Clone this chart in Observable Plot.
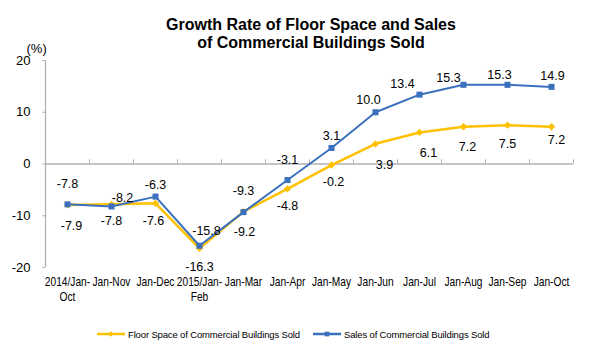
<!DOCTYPE html>
<html>
<head>
<meta charset="utf-8">
<script src="https://cdn.jsdelivr.net/npm/d3@7"></script>
<script src="https://cdn.jsdelivr.net/npm/@observablehq/plot@0.6"></script>
<style>
  html, body { margin: 0; padding: 0; background: #fff; }
  #wrap { position: relative; width: 594px; height: 355px; font-family: Arial, "Liberation Sans", sans-serif; }
  #title { position: absolute; left: 0; top: 16px; width: 622px; text-align: center; font-weight: bold; font-size: 16px; line-height: 18px; color: #000; }
  #chart { position: absolute; left: 0; top: 0; }
  #legend { position: absolute; left: 0; top: 326px; width: 594px; height: 16px; font-family: Arial, "Liberation Sans", sans-serif; font-size: 9.5px; letter-spacing: -0.15px; color: #000; }
  .item { position: absolute; top: 0; display: flex; align-items: center; height: 16px; white-space: nowrap; }
  .item svg { margin-right: 3px; }
</style>
</head>
<body>
<div id="wrap">
  <div id="chart"></div>
  <div id="title">Growth Rate of Floor Space and Sales<br>of Commercial Buildings Sold</div>
  <div id="legend"></div>
</div>
<script>
const categories = ["2014/Jan-\nOct", "Jan-Nov", "Jan-Dec", "2015/Jan-\nFeb", "Jan-Mar", "Jan-Apr", "Jan-May", "Jan-Jun", "Jan-Jul", "Jan-Aug", "Jan-Sep", "Jan-Oct"];
const floorSpace = [-7.9, -7.8, -7.6, -16.3, -9.2, -4.8, -0.2, 3.9, 6.1, 7.2, 7.5, 7.2];
const sales = [-7.8, -8.2, -6.3, -15.8, -9.3, -3.1, 3.1, 10.0, 13.4, 15.3, 15.3, 14.9];
const yTicks = [-20, -10, 0, 10, 20];
const seriesNames = ["Floor Space of Commercial Buildings Sold", "Sales of Commercial Buildings Sold"];

const YELLOW = "#ffc000";
const BLUE = "#3a70bd";

// label nudges (styling, not data)
const salesNudge = [[0,-20],[11,-8],[0,-12],[7,-15],[0,-21],[0,-20],[0,-12],[-7,-12],[-17,-11],[-15,-7],[-8,-10],[1,-11]];
const floorNudge = [[4,21],[0,17],[-2,18],[0,19],[1,20],[0,17],[2,17],[9,21],[9,21],[4,20],[0,19],[5,13]];

const idx = d3.range(categories.length);
const floorData = idx.map(i => ({i, v: floorSpace[i]}));
const salesData = idx.map(i => ({i, v: sales[i]}));
const fmt = v => v.toFixed(1);

const labelMarks = [];
salesData.forEach((d, k) => labelMarks.push(Plot.text([d], {x: "i", y: "v", text: d => fmt(d.v), dx: salesNudge[k][0], dy: salesNudge[k][1], fontSize: 12.5, fill: "#000"})));
floorData.forEach((d, k) => labelMarks.push(Plot.text([d], {x: "i", y: "v", text: d => fmt(d.v), dx: floorNudge[k][0], dy: floorNudge[k][1], fontSize: 12.5, fill: "#000"})));

const chart = Plot.plot({
  width: 594,
  height: 310,
  marginLeft: 45,
  marginRight: 21,
  marginTop: 60,
  marginBottom: 43,
  style: {fontFamily: "Arial, 'Liberation Sans', sans-serif", background: "transparent", overflow: "visible"},
  x: {type: "linear", domain: [-0.5, categories.length - 0.5], axis: null},
  y: {domain: [-20, 20], axis: null},
  marks: [
    Plot.ruleX([-0.5], {stroke: "#b0b0b0", strokeWidth: 1.3}),
    Plot.ruleY(yTicks, {x1: -0.5, x2: -0.56, stroke: "#b0b0b0"}),
    Plot.ruleY([0], {stroke: "#b0b0b0", strokeWidth: 1.3}),
    Plot.ruleX(idx.map(i => i + 0.5), {y1: 0, y2: 0.8, stroke: "#b0b0b0"}),
    Plot.axisY({ticks: yTicks, tickSize: 0, tickPadding: 15, fontSize: 13, tickFormat: d => String(d), anchor: "left", label: null}),
    Plot.axisX({ticks: idx, tickFormat: i => categories[i], tickSize: 0, tickPadding: 8, fontSize: 12, lineHeight: 1.25, label: null, className: "xt", fill: "#000"}),
    Plot.text(["(%)"], {frameAnchor: "top-left", dx: -19, dy: -17, fontSize: 13, fill: "#000"}),
    Plot.line(floorData, {x: "i", y: "v", stroke: YELLOW, strokeWidth: 2.5}),
    Plot.dot(floorData, {x: "i", y: "v", symbol: "diamond2", r: 3.3, fill: YELLOW, stroke: "none"}),
    Plot.line(salesData, {x: "i", y: "v", stroke: BLUE, strokeWidth: 2}),
    Plot.dot(salesData, {x: "i", y: "v", symbol: "square", r: 3.4, fill: BLUE, stroke: "none"}),
    ...labelMarks
  ]
});
document.getElementById("chart").appendChild(chart);
// condense the x tick labels horizontally (the reference uses a narrow face)
chart.querySelectorAll("g.xt text").forEach(t => {
  const tr = t.getAttribute("transform") || "";
  t.setAttribute("transform", tr + " scale(0.85,1)");
});

// legend
const legend = document.getElementById("legend");
function swatch(color, symbol) {
  const s = d3.create("svg").attr("width", 28).attr("height", 10);
  s.append("line").attr("x1", 0).attr("x2", 28).attr("y1", 5).attr("y2", 5).attr("stroke", color).attr("stroke-width", 2.5);
  s.append("path").attr("transform", "translate(14,5)").attr("d", d3.symbol(symbol, symbol === d3.symbolSquare ? 22 : 18)()).attr("fill", color);
  return s.node();
}
[[seriesNames[0], YELLOW, d3.symbolDiamond2, 97], [seriesNames[1], BLUE, d3.symbolSquare, 313]].forEach(([name, color, sym, left]) => {
  const item = document.createElement("div");
  item.className = "item";
  item.style.left = left + "px";
  item.appendChild(swatch(color, sym));
  const t = document.createElement("span");
  t.textContent = name;
  item.appendChild(t);
  legend.appendChild(item);
});
</script>
</body>
</html>
